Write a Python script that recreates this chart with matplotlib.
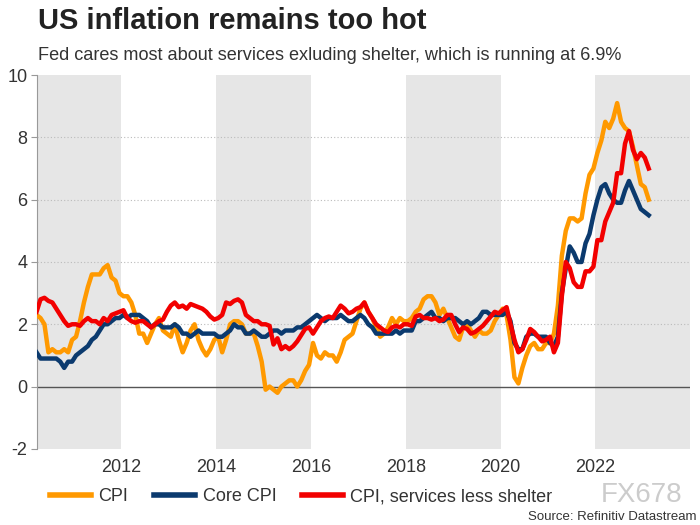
import numpy as np
import matplotlib
matplotlib.use("Agg")
import matplotlib.pyplot as plt
from matplotlib.lines import Line2D

plt.rcParams['font.family'] = ['Liberation Sans', 'DejaVu Sans']
plt.rcParams['axes.unicode_minus'] = False

# monthly YoY %, Mar 2010 - Feb 2023
cpi = [2.3, 2.2, 2.0, 1.1, 1.2, 1.1, 1.1, 1.2, 1.1, 1.5,
       1.6, 2.1, 2.7, 3.2, 3.6, 3.6, 3.6, 3.8, 3.9, 3.5, 3.4, 3.0,
       2.9, 2.9, 2.7, 2.3, 1.7, 1.7, 1.4, 1.7, 2.0, 2.2, 1.8, 1.7,
       1.6, 2.0, 1.5, 1.1, 1.4, 1.8, 2.0, 1.5, 1.2, 1.0, 1.2, 1.5,
       1.6, 1.1, 1.5, 2.0, 2.1, 2.1, 2.0, 1.7, 1.7, 1.7, 1.3, 0.8,
       -0.1, 0.0, -0.1, -0.2, 0.0, 0.1, 0.2, 0.2, 0.0, 0.2, 0.5, 0.7,
       1.4, 1.0, 0.9, 1.1, 1.0, 1.0, 0.8, 1.1, 1.5, 1.6, 1.7, 2.1,
       2.5, 2.7, 2.4, 2.2, 1.9, 1.6, 1.7, 1.9, 2.2, 2.0, 2.2, 2.1,
       2.1, 2.2, 2.4, 2.5, 2.8, 2.9, 2.9, 2.7, 2.3, 2.5, 2.2, 1.9,
       1.6, 1.5, 1.9, 2.0, 1.8, 1.6, 1.8, 1.7, 1.7, 1.8, 2.1, 2.3,
       2.5, 2.3, 1.5, 0.3, 0.1, 0.6, 1.0, 1.3, 1.4, 1.2, 1.2, 1.4,
       1.4, 1.7, 2.6, 4.2, 5.0, 5.4, 5.4, 5.3, 5.4, 6.2, 6.8, 7.0,
       7.5, 7.9, 8.5, 8.3, 8.6, 9.1, 8.5, 8.3, 8.2, 7.7, 7.1, 6.5,
       6.4, 6.0]

core_cpi = [1.1, 0.9, 0.9, 0.9, 0.9, 0.9, 0.8, 0.6, 0.8, 0.8,
            1.0, 1.1, 1.2, 1.3, 1.5, 1.6, 1.8, 2.0, 2.0, 2.1, 2.2, 2.2,
            2.3, 2.2, 2.3, 2.3, 2.3, 2.2, 2.1, 1.9, 2.0, 2.0, 1.9, 1.9,
            1.9, 2.0, 1.9, 1.7, 1.7, 1.6, 1.7, 1.8, 1.7, 1.7, 1.7, 1.7,
            1.6, 1.6, 1.7, 1.8, 2.0, 1.9, 1.9, 1.7, 1.7, 1.8, 1.7, 1.6,
            1.6, 1.7, 1.8, 1.8, 1.7, 1.8, 1.8, 1.8, 1.9, 1.9, 2.0, 2.1,
            2.2, 2.3, 2.2, 2.1, 2.2, 2.2, 2.2, 2.3, 2.2, 2.1, 2.1, 2.2,
            2.3, 2.2, 2.0, 1.9, 1.7, 1.7, 1.7, 1.7, 1.7, 1.8, 1.7, 1.8,
            1.8, 1.8, 2.1, 2.1, 2.2, 2.3, 2.4, 2.2, 2.2, 2.1, 2.2, 2.2,
            2.2, 2.1, 2.0, 2.1, 2.0, 2.1, 2.2, 2.4, 2.4, 2.3, 2.3, 2.3,
            2.3, 2.4, 2.1, 1.4, 1.2, 1.2, 1.6, 1.7, 1.7, 1.6, 1.6, 1.6,
            1.4, 1.3, 1.6, 3.0, 3.8, 4.5, 4.3, 4.0, 4.0, 4.6, 4.9, 5.5,
            6.0, 6.4, 6.5, 6.2, 6.0, 5.9, 5.9, 6.3, 6.6, 6.3, 6.0, 5.7,
            5.6, 5.5]

services_less_shelter = [2.4, 2.8, 2.85, 2.75, 2.7, 2.5, 2.3, 2.1, 1.95, 2.0,
                         2.0, 1.95, 2.1, 2.2, 2.1, 2.1, 2.0, 2.2, 2.1, 2.3, 2.35, 2.4,
                         2.45, 2.2, 2.1, 2.05, 2.1, 2.1, 2.0, 1.9, 2.0, 2.1, 2.15, 2.4,
                         2.6, 2.7, 2.55, 2.6, 2.5, 2.65, 2.6, 2.55, 2.5, 2.4, 2.25, 2.15,
                         2.2, 2.3, 2.7, 2.65, 2.75, 2.8, 2.7, 2.3, 2.2, 2.1, 2.1, 2.0,
                         2.0, 1.95, 1.35, 1.55, 1.2, 1.3, 1.2, 1.3, 1.45, 1.65, 1.85, 1.9,
                         1.7, 1.9, 2.1, 2.2, 2.25, 2.2, 2.4, 2.6, 2.5, 2.35, 2.4, 2.5,
                         2.55, 2.7, 2.4, 2.2, 2.0, 1.9, 1.8, 1.75, 1.9, 1.95, 1.9, 2.0,
                         2.0, 1.95, 2.25, 2.3, 2.2, 2.2, 2.15, 2.2, 2.1, 2.15, 2.3, 2.3,
                         2.0, 1.75, 1.9, 1.85, 1.7, 1.75, 1.85, 1.95, 2.1, 2.25, 2.4, 2.35,
                         2.45, 2.55, 2.0, 1.5, 1.1, 1.2, 1.5, 1.85, 1.75, 1.6, 1.45, 1.5,
                         1.6, 1.1, 1.4, 2.9, 4.0, 3.8, 3.35, 3.2, 3.2, 3.7, 3.7, 3.85,
                         4.7, 4.7, 5.3, 5.6, 5.9, 6.85, 6.85, 7.8, 8.2, 7.6, 7.3, 7.5,
                         7.35, 7.0]

year_ticks = [2012, 2014, 2016, 2018, 2020, 2022]
shaded = [(2010.0, 2012), (2014, 2016), (2018, 2020), (2022, 2025)]

dates = 2010 + (2 + np.arange(len(cpi)) + 0.5) / 12

c_cpi = '#FF9900'
c_core = '#0B3A6E'
c_svc = '#F20000'
txt = '#333333'

fig = plt.figure(figsize=(7, 5.25), dpi=100)
ax = fig.add_axes([0.053, 0.145, 0.933, 0.712])

for a, b in shaded:
    ax.axvspan(a, b, color='#E6E6E6', lw=0, zorder=0)

for y in [2, 4, 6, 8]:
    ax.axhline(y, color='#BBBBBB', lw=0.8, ls=(0, (1, 2)), zorder=1)
ax.axhline(0, color='#555555', lw=1.0, zorder=1)

ax.plot(dates, cpi, color=c_cpi, lw=3.2, zorder=3)
ax.plot(dates, core_cpi, color=c_core, lw=3.2, zorder=4)
ax.plot(dates, services_less_shelter, color=c_svc, lw=3.2, zorder=5)

ax.set_xlim(2010.22, 2024.0)
ax.set_ylim(-2, 10)
ax.set_yticks(range(-2, 11, 2))
ax.set_xticks(year_ticks)
ax.tick_params(axis='y', length=4, color='#999999', labelsize=13, labelcolor=txt, pad=3)
ax.tick_params(axis='x', length=0, labelsize=13, labelcolor=txt, pad=7)
for s in ['top', 'right', 'bottom']:
    ax.spines[s].set_visible(False)
ax.spines['left'].set_color('#999999')

fig.text(0.054, 0.960, 'US inflation remains too hot', fontsize=21, fontweight='bold',
         color='#222222', va='center', ha='left')
fig.text(0.054, 0.895, 'Fed cares most about services exluding shelter, which is running at 6.9%',
         fontsize=13.1, color=txt, va='center', ha='left')

handles = [Line2D([], [], color=c_cpi, lw=4),
           Line2D([], [], color=c_core, lw=4),
           Line2D([], [], color=c_svc, lw=4)]
fig.legend(handles, ['CPI', 'Core CPI', 'CPI, services less shelter'],
           loc='center left', bbox_to_anchor=(0.048, 0.054), ncol=3, frameon=False,
           fontsize=13, handlelength=2.3, handletextpad=0.4, columnspacing=1.4,
           labelcolor=txt)

fig.text(0.975, 0.058, 'FX678', fontsize=20, color='#CCCCCC', ha='right', va='center')
fig.text(0.995, 0.015, 'Source: Refinitiv Datastream', fontsize=9.5, color=txt,
         ha='right', va='center')

fig.savefig('out.png', dpi=100)
